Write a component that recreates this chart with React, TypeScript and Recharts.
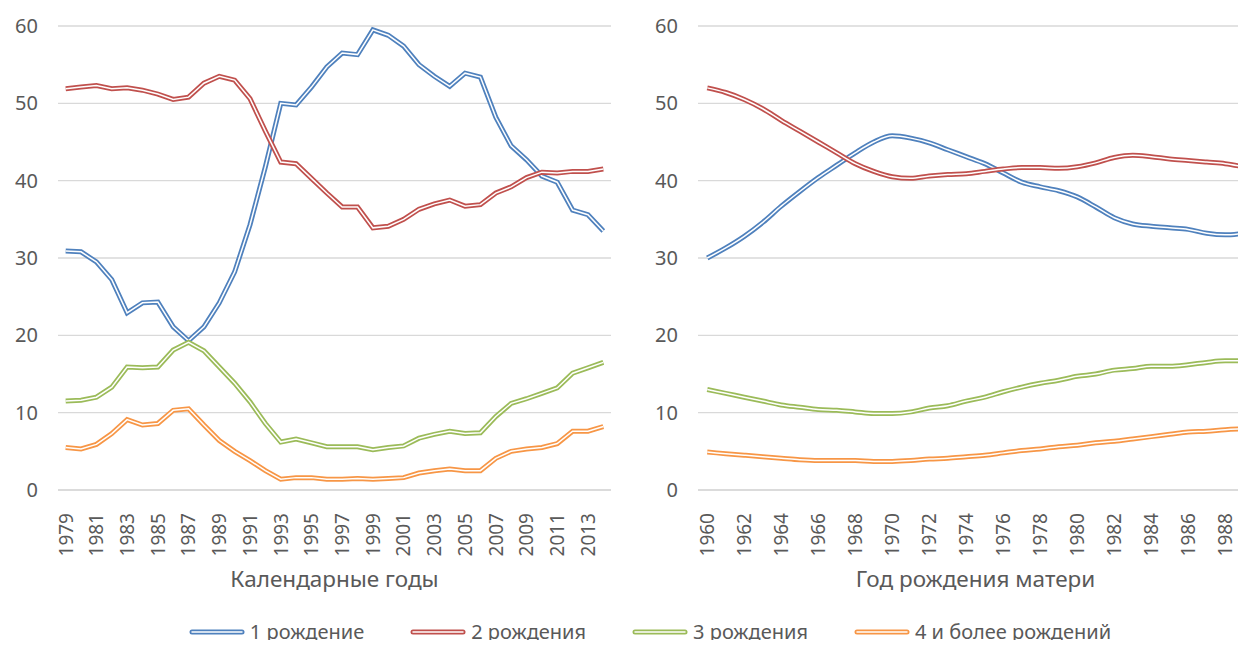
import { CartesianGrid, Line, LineChart, XAxis, YAxis } from 'recharts'

const calendarYears = [
	1979, 1980, 1981, 1982, 1983, 1984, 1985, 1986, 1987, 1988, 1989, 1990,
	1991, 1992, 1993, 1994, 1995, 1996, 1997, 1998, 1999, 2000, 2001, 2002,
	2003, 2004, 2005, 2006, 2007, 2008, 2009, 2010, 2011, 2012, 2013, 2014,
]
const calFirst = [
	30.9, 30.8, 29.5, 27.2, 22.9, 24.2, 24.3, 21.1, 19.3, 21.1, 24.2, 28.2,
	34.3, 41.8, 50.0, 49.8, 52.1, 54.7, 56.5, 56.3, 59.5, 58.8, 57.4, 55.0,
	53.5, 52.2, 53.9, 53.4, 48.2, 44.5, 42.7, 40.6, 39.8, 36.2, 35.6, 33.5,
]
const calSecond = [
	51.9, 52.1, 52.3, 51.9, 52.0, 51.7, 51.2, 50.5, 50.8, 52.6, 53.5, 53.0,
	50.6, 46.4, 42.4, 42.2, 40.3, 38.4, 36.6, 36.6, 33.9, 34.1, 35.0, 36.3,
	37.0, 37.5, 36.7, 36.9, 38.4, 39.2, 40.4, 41.1, 41.0, 41.2, 41.2, 41.5,
]
const calThird = [
	11.5, 11.6, 12.0, 13.3, 15.9, 15.8, 15.9, 18.1, 19.1, 18.0, 15.9, 13.8,
	11.4, 8.6, 6.2, 6.6, 6.1, 5.6, 5.6, 5.6, 5.2, 5.5, 5.7, 6.7,
	7.2, 7.6, 7.3, 7.4, 9.5, 11.2, 11.8, 12.5, 13.2, 15.1, 15.8, 16.5,
]
const calFourth = [
	5.5, 5.3, 5.9, 7.3, 9.1, 8.4, 8.6, 10.3, 10.5, 8.4, 6.4, 5.0,
	3.8, 2.5, 1.4, 1.6, 1.6, 1.4, 1.4, 1.5, 1.4, 1.5, 1.6, 2.2,
	2.5, 2.7, 2.5, 2.5, 4.1, 5.0, 5.3, 5.5, 6.0, 7.6, 7.6, 8.2,
]

const motherYears = [
	1960, 1961, 1962, 1963, 1964, 1965, 1966, 1967, 1968, 1969, 1970, 1971,
	1972, 1973, 1974, 1975, 1976, 1977, 1978, 1979, 1980, 1981, 1982, 1983,
	1984, 1985, 1986, 1987, 1988, 1989,
]
const motFirst = [
	30.0, 31.3, 32.8, 34.6, 36.7, 38.6, 40.4, 42.0, 43.6, 45.0, 45.8, 45.5,
	44.9, 44.0, 43.1, 42.2, 41.0, 39.8, 39.2, 38.7, 37.9, 36.6, 35.2, 34.4,
	34.1, 33.9, 33.7, 33.2, 33.0, 33.2,
]
const motSecond = [
	52.0, 51.4, 50.5, 49.3, 47.8, 46.4, 45.0, 43.6, 42.2, 41.2, 40.5, 40.3,
	40.6, 40.8, 40.9, 41.2, 41.5, 41.7, 41.7, 41.6, 41.8, 42.3, 43.0, 43.3,
	43.1, 42.8, 42.6, 42.4, 42.2, 41.8,
]
const motThird = [
	13.0, 12.5, 12.0, 11.5, 11.0, 10.7, 10.4, 10.3, 10.1, 9.9, 9.9, 10.1,
	10.6, 10.9, 11.5, 12.0, 12.7, 13.3, 13.8, 14.2, 14.7, 15.0, 15.5, 15.7,
	16.0, 16.0, 16.2, 16.5, 16.7, 16.7,
]
const motFourth = [
	4.9, 4.7, 4.5, 4.3, 4.1, 3.9, 3.8, 3.8, 3.8, 3.7, 3.7, 3.8,
	4.0, 4.1, 4.3, 4.5, 4.8, 5.1, 5.3, 5.6, 5.8, 6.1, 6.3, 6.6,
	6.9, 7.2, 7.5, 7.6, 7.8, 7.9,
]

const yTicks = [0, 10, 20, 30, 40, 50, 60]

const series = [
	{ key: 'first', name: '1 рождение', color: '#4F81BD' },
	{ key: 'second', name: '2 рождения', color: '#C0504D' },
	{ key: 'third', name: '3 рождения', color: '#9BBB59' },
	{ key: 'fourth', name: '4 и более рождений', color: '#F79646' },
]

const calData = calendarYears.map((year, i) => ({
	year,
	first: calFirst[i],
	second: calSecond[i],
	third: calThird[i],
	fourth: calFourth[i],
}))

const motData = motherYears.map((year, i) => ({
	year,
	first: motFirst[i],
	second: motSecond[i],
	third: motThird[i],
	fourth: motFourth[i],
}))

const FONT = '"Noto Sans", sans-serif'
const GREY = '#595959'

const YearTick = ({ x, y, payload }: any) => (
	<g transform={`translate(${x},${y + 15}) rotate(-90)`}>
		<text textAnchor="end" dy="0.36em" fill={GREY} fontSize={19} fontFamily={FONT}>
			{payload.value}
		</text>
	</g>
)

const doubleLines = (type: 'linear' | 'monotone') =>
	series.flatMap((s) => [
		<Line
			key={s.key}
			type={type}
			dataKey={s.key}
			stroke={s.color}
			strokeWidth={5}
			dot={false}
			isAnimationActive={false}
		/>,
		<Line
			key={s.key + '-in'}
			type={type}
			dataKey={s.key}
			stroke="#ffffff"
			strokeWidth={1.5}
			dot={false}
			isAnimationActive={false}
		/>,
	])

const Panel = ({
	data,
	width,
	pad,
	title,
	type,
}: {
	data: any[]
	width: number
	pad: number
	title: string
	type: 'linear' | 'monotone'
}) => (
	<LineChart width={width} height={600} data={data} margin={{ top: 26, right: 0, left: 0, bottom: 0 }}>
		<CartesianGrid vertical={false} stroke="#d9d9d9" strokeWidth={1.3} />
		<YAxis
			domain={[0, 60]}
			ticks={yTicks}
			width={58}
			axisLine={false}
			tickLine={false}
			tickMargin={14}
			tick={{ fill: GREY, fontSize: 20, fontFamily: FONT }}
		/>
		<XAxis
			dataKey="year"
			height={110}
			interval={1}
			padding={{ left: pad, right: pad }}
			axisLine={{ stroke: '#d9d9d9', strokeWidth: 1.3 }}
			tickLine={false}
			tick={<YearTick />}
			label={{
				value: title,
				position: 'insideBottom',
				offset: 13,
				fill: GREY,
				fontSize: 22.5,
				fontFamily: FONT,
			}}
		/>
		{doubleLines(type)}
	</LineChart>
)

const LegendSwatch = ({ color }: { color: string }) => (
	<svg width={56} height={12}>
		<line x1={3} y1={6} x2={53} y2={6} stroke={color} strokeWidth={5} strokeLinecap="round" />
		<line x1={3} y1={6} x2={53} y2={6} stroke="#ffffff" strokeWidth={1.5} strokeLinecap="round" />
	</svg>
)

export default function App() {
	return (
		<div
			style={{
				position: 'relative',
				width: 1246,
				height: 648,
				margin: -8,
				overflow: 'hidden',
				background: '#ffffff',
				fontFamily: FONT,
			}}
		>
			<div style={{ position: 'absolute', left: 0, top: 0 }}>
				<Panel data={calData} width={611} pad={7.68} title="Календарные годы" type="linear" />
			</div>
			<div style={{ position: 'absolute', left: 640, top: 0 }}>
				<Panel data={motData} width={613} pad={9.26} title="Год рождения матери" type="monotone" />
			</div>
			<div
				style={{
					position: 'absolute',
					left: 0,
					width: 1300,
					top: 619,
					lineHeight: '26px',
					display: 'flex',
					justifyContent: 'center',
					gap: 46,
					fontSize: 20,
					color: GREY,
				}}
			>
				{series.map((s) => (
					<div key={s.key} style={{ display: 'flex', alignItems: 'center', gap: 5 }}>
						<LegendSwatch color={s.color} />
						<span>{s.name}</span>
					</div>
				))}
			</div>
		</div>
	)
}
